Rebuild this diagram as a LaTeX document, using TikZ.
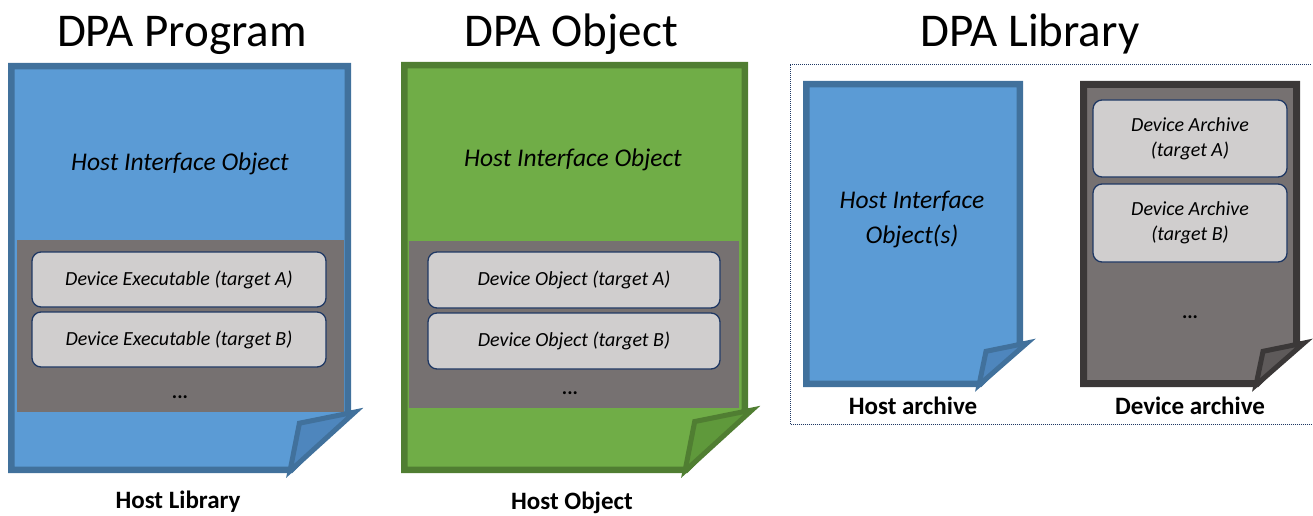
\documentclass[tikz,border=0pt]{standalone}
\usepackage{fontspec}
\setmainfont{Carlito}
\begin{document}
\begin{tikzpicture}[x=1pt,y=-1pt,
  title/.style={font=\fontsize{47}{50}\selectfont, anchor=base, inner sep=0},
  label/.style={font=\bfseries\fontsize{25}{28}\selectfont, inner sep=0},
  hio/.style={font=\itshape\fontsize{25.5}{35}\selectfont, align=center, inner sep=0},
  devbox/.style={draw=navy, line width=1.3pt, fill=boxgray, rounded corners=9pt,
    font=\itshape\fontsize{20}{25}\selectfont, align=center, inner sep=0},
  dots/.style={font=\bfseries\fontsize{20}{24}\selectfont, inner sep=0, anchor=base},
  bluepage/.style={fill=pblue, draw=pblueline, line width=6.5pt, line join=miter},
  blueflap/.style={fill=pblueflap, draw=pblueline, line width=5pt, line join=miter},
  greenpage/.style={fill=pgreen, draw=pgreenline, line width=6.5pt, line join=miter},
  greenflap/.style={fill=pgreenflap, draw=pgreenline, line width=5pt, line join=miter},
  graypage/.style={fill=pgray, draw=pgrayline, line width=7pt, line join=miter},
  grayflap/.style={fill=pgrayflap, draw=pgrayline, line width=5pt, line join=miter},
  panel/.style={fill=pgray},
  frame/.style={draw=navy, line width=1pt, dash pattern=on 1pt off 1pt}
]
\definecolor{pblue}{HTML}{5B9BD5}
\definecolor{pblueline}{HTML}{41719C}
\definecolor{pblueflap}{HTML}{4E86BD}
\definecolor{pgreen}{HTML}{70AD47}
\definecolor{pgreenline}{HTML}{507E32}
\definecolor{pgreenflap}{HTML}{5F993B}
\definecolor{pgray}{HTML}{767171}
\definecolor{pgrayline}{HTML}{3B3838}
\definecolor{pgrayflap}{HTML}{5E5A5A}
\definecolor{boxgray}{HTML}{D0CECE}
\definecolor{navy}{HTML}{1F3864}

% page with a folded lower-right corner:
% #1 page style, #2 unused, #3 left, #4 top, #5 right, #6 bottom, #7 fold size, #8 half line width
\newcommand\DocPage[8]{%
  \path[#1] ({#3+#8},{#4+#8}) -- ({#5-#8},{#4+#8}) -- ({#5-#8},{#6-#7}) --
    ({#5-#7},{#6-#8}) -- ({#3+#8},{#6-#8}) -- cycle;
}
% the turned-up corner: #1 style, #2 right, #3 bottom, #4 fold size
\newcommand\DocFlap[5]{%
  \path[#1] ({#2-0.86*#4},{#3-0.83*#4}) -- ({#2+4},{#3-#4-1}) -- ({#2-#4-1},{#3-2}) -- cycle;
}

\useasboundingbox (0,0) rectangle (1313,516);

% ---------- DPA Program ----------
\node[title] (t1) at (182,47) {DPA Program};
\DocPage{bluepage}{}{8}{63}{351}{473}{60}{3.25}
\fill[panel] (17,240) rectangle (344,412);
\DocFlap{blueflap}{351}{473}{60}{}
\node[hio] (h1) at (180,164) {Host Interface Object};
\node[devbox, minimum width=294pt, minimum height=55pt] (e1) at (179,279.5) {Device Executable (target A)};
\node[devbox, minimum width=294pt, minimum height=55pt] (e2) at (179,339.5) {Device Executable (target B)};
\node[dots] (d1) at (180,398) {...};
\node[label] (l1) at (178,502) {Host Library};

% ---------- DPA Object ----------
\node[title] (t2) at (571,47) {DPA Object};
\DocPage{greenpage}{}{401}{62}{748}{473}{62}{3.25}
\fill[panel] (408.5,241) rectangle (739,408);
\DocFlap{greenflap}{748}{473}{62}{}
\node[hio] (h2) at (573,160) {Host Interface Object};
\node[devbox, minimum width=292pt, minimum height=56pt] (o1) at (574,280) {Device Object (target A)};
\node[devbox, minimum width=292pt, minimum height=56pt] (o2) at (574,341) {Device Object (target B)};
\node[dots] (d2) at (570,394) {...};
\node[label] (l2) at (572,503) {Host Object};

% ---------- DPA Library ----------
\node[title] (t3) at (1030,47) {DPA Library};
\draw[frame] (790,65) -- (1312,65);
\draw[frame] (790,65) -- (790,424.5) -- (1312,424.5);

\DocPage{bluepage}{}{803}{81}{1023}{387}{43}{3.25}
\DocFlap{blueflap}{1023}{387}{43}{}
\node[hio] (h3) at (912,219) {Host Interface\\Object(s)};
\node[label] (l3) at (913,406) {Host archive};

\DocPage{graypage}{}{1080}{81}{1300}{387}{43}{3.5}
\DocFlap{grayflap}{1300}{387}{43}{}
\node[devbox, minimum width=194pt, minimum height=77pt] (a1) at (1190,138.5) {Device Archive\\(target A)};
\node[devbox, minimum width=194pt, minimum height=78pt] (a2) at (1190,223) {Device Archive\\(target B)};
\node[dots] (d3) at (1190,318) {...};
\node[label] (l4) at (1190,406) {Device archive};
\end{tikzpicture}
\end{document}
